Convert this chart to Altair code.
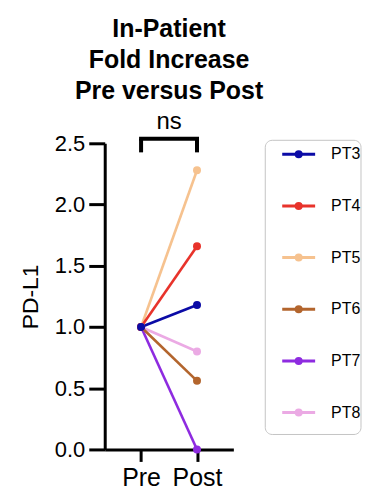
import altair as alt
import pandas as pd

# ---- data ----
patients = ["PT3", "PT4", "PT5", "PT6", "PT7", "PT8"]
colors = ["#0B0BA6", "#E8332B", "#F6C28F", "#B3652D", "#8E2BE0", "#EBAAE4"]
pre_values = [1.0, 1.0, 1.0, 1.0, 1.0, 1.0]
post_values = [1.18, 1.66, 2.28, 0.56, 0.0, 0.80]
timepoints = ["Pre", "Post"]
y_ticks = [0.0, 0.5, 1.0, 1.5, 2.0, 2.5]
title_lines = ["In-Patient", "Fold Increase", "Pre versus Post"]
sig_label = "ns"

FONT = "Liberation Sans"
PLOT_H = 307

rows = []
# reversed so that PT3 is drawn on top
for p, a, b in reversed(list(zip(patients, pre_values, post_values))):
    rows.append({"patient": p, "time": 0, "value": a})
    rows.append({"patient": p, "time": 1, "value": b})
df = pd.DataFrame(rows)

color_scale = alt.Scale(domain=patients, range=colors)
x_scale = alt.Scale(domain=[-0.65, 1.65], nice=False, zero=False)
y_scale = alt.Scale(domain=[0, 2.5], nice=False, zero=False)

label_expr = "[" + ",".join("'%s'" % t for t in timepoints) + "][datum.value]"

x_axis = alt.Axis(values=[0, 1], labelExpr=label_expr, title=None, grid=False,
                  tickSize=12, labelFontSize=25, labelPadding=4, labelFlush=False)
y_axis = alt.Axis(values=y_ticks, format=".1f", title="PD-L1", grid=False,
                  tickSize=16, labelFontSize=22, labelPadding=4,
                  titleFontSize=23, titleFontWeight="normal", titlePadding=12)

lines = alt.Chart(df).mark_line(strokeWidth=2.6).encode(
    x=alt.X("time:Q", scale=x_scale, axis=x_axis),
    y=alt.Y("value:Q", scale=y_scale, axis=y_axis),
    color=alt.Color("patient:N", scale=color_scale, legend=None),
    detail="patient:N",
)
points = alt.Chart(df).mark_circle(size=64, opacity=1).encode(
    x=alt.X("time:Q", scale=x_scale),
    y=alt.Y("value:Q", scale=y_scale),
    color=alt.Color("patient:N", scale=color_scale, legend=None),
)

# significance bracket between Pre and Post
bracket_top = 2.537
bracket_bottom = 2.426
bar = alt.Chart(pd.DataFrame({"x": [0], "x2": [1], "y": [bracket_top]})).mark_rule(
    strokeWidth=4, color="black", strokeCap="square"
).encode(
    x=alt.X("x:Q", scale=x_scale), x2="x2:Q", y=alt.Y("y:Q", scale=y_scale)
)
legs = alt.Chart(pd.DataFrame({"x": [0, 1], "y": [bracket_bottom] * 2,
                               "y2": [bracket_top] * 2})).mark_rule(
    strokeWidth=4, color="black"
).encode(
    x=alt.X("x:Q", scale=x_scale), y=alt.Y("y:Q", scale=y_scale), y2="y2:Q"
)
ns = alt.Chart(pd.DataFrame({"x": [0.5], "y": [2.62], "t": [sig_label]})).mark_text(
    fontSize=24, font=FONT, baseline="alphabetic", align="center", color="black"
).encode(
    x=alt.X("x:Q", scale=x_scale), y=alt.Y("y:Q", scale=y_scale), text="t:N"
)

main = alt.layer(lines, points, bar, legs, ns)

# ---- legend panel (drawn as marks) ----
leg_df = pd.DataFrame({"patient": patients, "row": list(range(len(patients)))})
row_scale = alt.Scale(domain=[-0.212, 5.714], reverse=True, nice=False, zero=False)

box = alt.Chart(pd.DataFrame({"a": [0]})).mark_rect(
    fill="transparent", stroke="#c4c4c4", strokeWidth=1, cornerRadius=7
).encode(
    x=alt.value(161), x2=alt.value(257), y=alt.value(-3), y2=alt.value(292)
)
leg_lines = alt.Chart(leg_df).mark_rule(strokeWidth=3).encode(
    x=alt.value(178), x2=alt.value(211),
    y=alt.Y("row:Q", scale=row_scale, axis=None),
    color=alt.Color("patient:N", scale=color_scale, legend=None),
)
leg_points = alt.Chart(leg_df).mark_circle(size=64, opacity=1).encode(
    x=alt.value(194.5),
    y=alt.Y("row:Q", scale=row_scale, axis=None),
    color=alt.Color("patient:N", scale=color_scale, legend=None),
)
leg_text = alt.Chart(leg_df).mark_text(
    fontSize=16, font=FONT, align="left", baseline="middle", color="black"
).encode(
    x=alt.value(227),
    y=alt.Y("row:Q", scale=row_scale, axis=None),
    text="patient:N",
)
legend = alt.layer(box, leg_lines, leg_points, leg_text)

chart = alt.layer(main, legend).resolve_scale(y="independent").properties(
    width=129,
    height=PLOT_H,
    padding={"left": 11, "top": 8, "right": 0, "bottom": 0},
    title=alt.Title(title_lines, fontSize=25, font=FONT, fontWeight="bold",
                    anchor="middle", frame="group", lineHeight=31, offset=6,
                    color="black"),
).configure_view(stroke=None).configure_axis(
    domainColor="black", domainWidth=3, tickColor="black", tickWidth=3,
    labelColor="black", titleColor="black", labelFont=FONT, titleFont=FONT,
)

chart.save("out.html", embed_options={"renderer": "svg", "actions": False})
